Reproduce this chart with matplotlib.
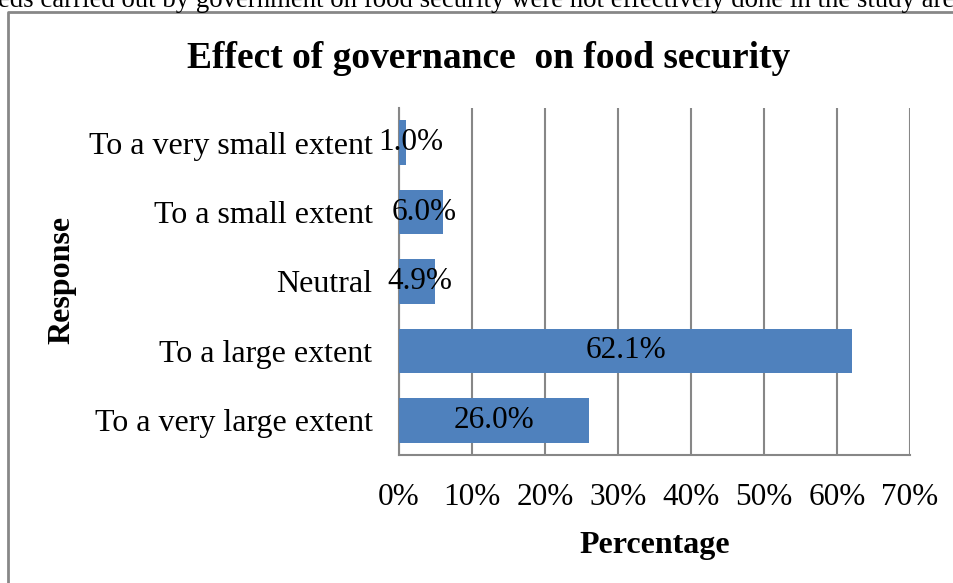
import matplotlib
matplotlib.use("Agg")
import matplotlib.pyplot as plt
from matplotlib.lines import Line2D

# Survey responses (top to bottom) and their shares in percent
categories = ["To a very small extent", "To a small extent", "Neutral",
              "To a large extent", "To a very large extent"]
values = [1.0, 6.0, 4.9, 62.1, 26.0]
value_labels = ["1.0%", "6.0%", "4.9%", "62.1%", "26.0%"]
xticks = [0, 10, 20, 30, 40, 50, 60, 70]
xtick_labels = ["0%", "10%", "20%", "30%", "40%", "50%", "60%", "70%"]

W, H = 954, 583
DPI = 100
fig = plt.figure(figsize=(W / DPI, H / DPI), dpi=DPI)
plt.rcParams["font.family"] = ["Liberation Serif", "DejaVu Serif"]

def px(x, y):
    """Pixel position (from top-left) to figure fraction."""
    return x / W, 1 - y / H

grid_col = "#878787"
bar_col = "#4F81BD"

# Running text above the chart frame
fig.text(*px(-2, 7), "eds carried out by government on food security were not effectively done in the study are",
         fontsize=19.3, ha="left", va="baseline", color="black")

# Chart frame (left and top edges)
x0, y0 = px(8, 590)
x1, y1 = px(8, 12)
x2, _ = px(960, 12)
fig.add_artist(Line2D([x0, x1, x2], [y0, y1, y1], transform=fig.transFigure,
                      color=grid_col, lw=2))

ax = fig.add_axes([399 / W, 1 - 455 / H, (910 - 399) / W, (455 - 108) / H])
ypos = list(range(len(categories)))
ax.barh(ypos, values, height=0.64, color=bar_col, zorder=3)
ax.set_ylim(len(categories) - 0.5, -0.5)
ax.set_xlim(0, 70)

ax.set_xticks(xticks)
ax.set_xticklabels(xtick_labels, fontsize=22.5)
ax.set_yticks(ypos)
ax.set_yticklabels(categories, fontsize=23)
ax.tick_params(axis="x", length=0, pad=20)
ax.tick_params(axis="y", length=0, pad=19)

ax.grid(axis="x", color=grid_col, lw=1.5, zorder=0)
for side in ("top", "right"):
    ax.spines[side].set_visible(False)
for side in ("left", "bottom"):
    ax.spines[side].set_color(grid_col)
    ax.spines[side].set_linewidth(1.5)

# Value labels centred on the bars (nudged right for the short ones)
for y, v, lab in zip(ypos, values, value_labels):
    xc = v / 2 if v > 10 else max(v / 2 + 0.45, 1.65)
    ax.text(xc, y, lab, ha="center", va="center", fontsize=22.5, zorder=4)

ax.set_xlabel("Percentage", fontsize=23, fontweight="bold", labelpad=14)
fig.text(*px(62, 280), "Response", rotation=90, fontsize=23, fontweight="bold",
         ha="center", va="center")

fig.text(*px(489, 58), "Effect of governance  on food security", fontsize=27,
         fontweight="bold", ha="center", va="center")

fig.savefig("out.png", dpi=DPI)
